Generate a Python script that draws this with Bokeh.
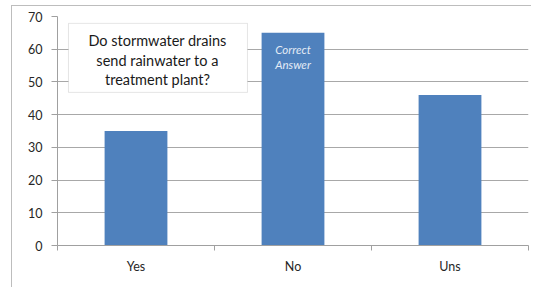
from bokeh.plotting import figure
from bokeh.models import (Range1d, FixedTicker, BoxAnnotation, Label, ColumnDataSource)
from bokeh.embed import file_html
from bokeh.resources import INLINE

# ---- data ----
categories = ["Yes", "No", "Uns"]
counts = [35, 65, 46]
y_ticks = [0, 10, 20, 30, 40, 50, 60, 70]
question_lines = ["Do stormwater drains", "send rainwater to a", "treatment plant?"]
note_lines = ["Correct", "Answer"]

FONT = "Lato"
TXT = "#262626"
GRID = "#a8a8a8"
BAR = "#4F81BD"

n = len(categories)
pos = list(range(n))

p = figure(x_range=Range1d(-0.5, n - 0.5), y_range=Range1d(0, 70),
           width=520, height=282, output_backend="svg", toolbar_location=None,
           min_border_left=45, min_border_right=4,
           min_border_top=10, min_border_bottom=43)
p.styles = {"margin-left": "11px", "margin-top": "5px",
            "border-left": "1px solid #bdbdbd", "border-top": "1px solid #bdbdbd"}
p.outline_line_color = None
p.background_fill_color = "white"
p.border_fill_color = "white"

src = ColumnDataSource(dict(x=pos, val=counts, cat=categories))
p.vbar(x="x", top="val", width=0.4, source=src, fill_color=BAR, line_color=None)

# y axis
ya = p.yaxis[0]
ya.ticker = FixedTicker(ticks=y_ticks)
ya.axis_line_color = "#a0a0a0"
ya.major_tick_line_color = "#a0a0a0"
ya.major_tick_out = 6
ya.major_tick_in = 0
ya.minor_tick_line_color = None
ya.major_label_standoff = 9
ya.major_label_text_font = FONT
ya.major_label_text_font_size = "12.5px"
ya.major_label_text_color = TXT
p.ygrid.grid_line_color = GRID
p.ygrid.ticker = FixedTicker(ticks=y_ticks)
p.xgrid.grid_line_color = None

# x axis: labels at category centres, tick marks at boundaries
xa = p.xaxis[0]
xa.ticker = FixedTicker(ticks=pos, minor_ticks=[i - 0.5 for i in range(n + 1)])
xa.major_label_overrides = {i: c for i, c in zip(pos, categories)}
xa.axis_line_color = "#a0a0a0"
xa.major_tick_line_color = None
xa.major_tick_out = 0
xa.major_tick_in = 0
xa.minor_tick_line_color = "#a0a0a0"
xa.minor_tick_out = 5
xa.minor_tick_in = 0
xa.major_label_standoff = 8
xa.major_label_text_font = FONT
xa.major_label_text_font_size = "12.5px"
xa.major_label_text_color = TXT

# question box
p.add_layout(BoxAnnotation(left=-0.43, right=0.71, bottom=46.8, top=67.9,
                           fill_color="white", fill_alpha=1.0,
                           line_color="#a8a8a8", line_width=1))
for i, t in enumerate(question_lines):
    p.add_layout(Label(x=0.137, y=62.8 - i * 6.1, text=t,
                       text_align="center", text_baseline="middle",
                       text_font=FONT, text_font_size="14.5px", text_color="#1a1a1a"))

for i, t in enumerate(note_lines):
    p.add_layout(Label(x=pos[1], y=60.0 - i * 4.6, text=t,
                       text_align="center", text_baseline="middle",
                       text_font=FONT, text_font_style="italic",
                       text_font_size="11.5px", text_color="#e4ecf6"))

open("out.html", "w").write(file_html(p, INLINE))
